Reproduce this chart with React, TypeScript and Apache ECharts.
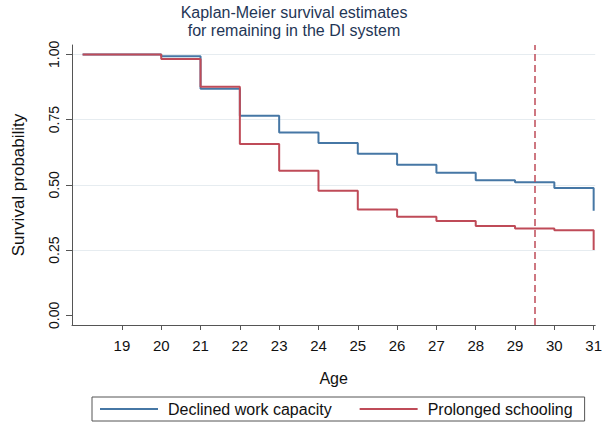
import React, { useEffect, useRef } from "react";
import * as echarts from "echarts";

const ages = [18, 20, 21, 22, 23, 24, 25, 26, 27, 28, 29, 30, 31];
const declinedWork = [1.0, 0.993, 0.868, 0.765, 0.701, 0.66, 0.619, 0.577, 0.546, 0.518, 0.51, 0.488, 0.401];
const prolongedSchooling = [1.0, 0.982, 0.876, 0.657, 0.554, 0.477, 0.406, 0.378, 0.362, 0.342, 0.333, 0.326, 0.25];
const xTicks = [19, 20, 21, 22, 23, 24, 25, 26, 27, 28, 29, 30, 31];
const yTicks = [0, 0.25, 0.5, 0.75, 1];
const gridValues = [0.25, 0.5, 0.75, 1];
const cutoffAge = 29.5;
const seriesNames = ["Declined work capacity", "Prolonged schooling"];
const titleLines = ["Kaplan-Meier survival estimates", "for remaining in the DI system"];

const FONT = "'Liberation Sans', Arial, Helvetica, sans-serif";
const BLUE = "#4677a5";
const RED = "#bf4b58";

export default function App() {
  const ref = useRef<HTMLDivElement>(null);
  useEffect(() => {
    if (!ref.current) return;
    const chart = echarts.init(ref.current, null, { renderer: "svg" });
    const blueData = ages.map((a, i) => [a, declinedWork[i]]);
    const redData = ages.map((a, i) => [a, prolongedSchooling[i]]);
    chart.setOption({
      animation: false,
      backgroundColor: "#ffffff",
      textStyle: { fontFamily: FONT },
      graphic: [
        {
          type: "text",
          x: 294,
          y: 3,
          style: {
            text: titleLines.join("\n"),
            textAlign: "center",
            fontSize: 16,
            lineHeight: 18,
            fontFamily: FONT,
            fill: "#1f3656",
          },
        },
      ],
      grid: { left: 72, right: 5, top: 45, bottom: 104, containLabel: false },
      legend: {
        data: seriesNames,
        left: 92,
        top: 397,
        orient: "horizontal",
        padding: [4, 12, 4, 8],
        borderColor: "#555555",
        borderWidth: 1,
        icon: "rect",
        itemWidth: 58,
        itemHeight: 2,
        itemGap: 28,
        textStyle: { fontSize: 16, color: "#111111", fontFamily: FONT, padding: [0, 0, 0, 5] },
      },
      xAxis: {
        type: "value",
        min: 17.73,
        max: 31.04,
        name: "Age",
        nameLocation: "middle",
        nameGap: 45,
        nameTextStyle: { fontSize: 16, color: "#111111", fontFamily: FONT },
        axisLine: { show: true, onZero: false, lineStyle: { color: "#555555", width: 1 } },
        axisTick: { show: true, length: 5, customValues: xTicks, lineStyle: { color: "#555555" } },
        axisLabel: { customValues: xTicks, fontSize: 15, color: "#111111", margin: 13, fontFamily: FONT },
        splitLine: { show: false },
      },
      yAxis: {
        type: "value",
        min: -0.037,
        max: 1.036,
        name: "Survival probability",
        nameLocation: "middle",
        nameGap: 45,
        nameRotate: 90,
        nameTextStyle: { fontSize: 17, color: "#111111", fontFamily: FONT },
        axisLine: { show: true, onZero: false, lineStyle: { color: "#555555", width: 1 } },
        axisTick: { show: true, length: 6, customValues: yTicks, lineStyle: { color: "#555555" } },
        axisLabel: {
          customValues: yTicks,
          rotate: 90,
          fontSize: 14,
          color: "#111111",
          margin: 11,
          fontFamily: FONT,
          formatter: (v: number) => v.toFixed(2),
        },
        splitLine: { show: false },
      },
      series: [
        {
          name: "grid",
          type: "line",
          data: [[18, 1]],
          symbol: "none",
          lineStyle: { opacity: 0 },
          z: 0,
          silent: true,
          markLine: {
            silent: true,
            z: 0,
            symbol: "none",
            label: { show: false },
            lineStyle: { color: "#e6ecf0", width: 1, type: "solid" },
            data: gridValues.map((v) => ({ yAxis: v })),
          },
        },
        {
          name: seriesNames[0],
          type: "line",
          step: "end",
          data: blueData,
          symbol: "none",
          lineStyle: { color: BLUE, width: 2 },
          itemStyle: { color: BLUE },
          z: 2,
        },
        {
          name: seriesNames[1],
          type: "line",
          step: "end",
          data: redData,
          symbol: "none",
          lineStyle: { color: RED, width: 2 },
          itemStyle: { color: RED },
          z: 3,
          markLine: {
            silent: true,
            z: 5,
            symbol: "none",
            label: { show: false },
            lineStyle: { color: RED, width: 1.5, type: [7, 4] },
            data: [{ xAxis: cutoffAge }],
          },
        },
      ],
    });
    return () => chart.dispose();
  }, []);
  return (
    <div
      ref={ref}
      style={{ position: "fixed", left: 0, top: 0, width: 605, height: 429 }}
    />
  );
}
